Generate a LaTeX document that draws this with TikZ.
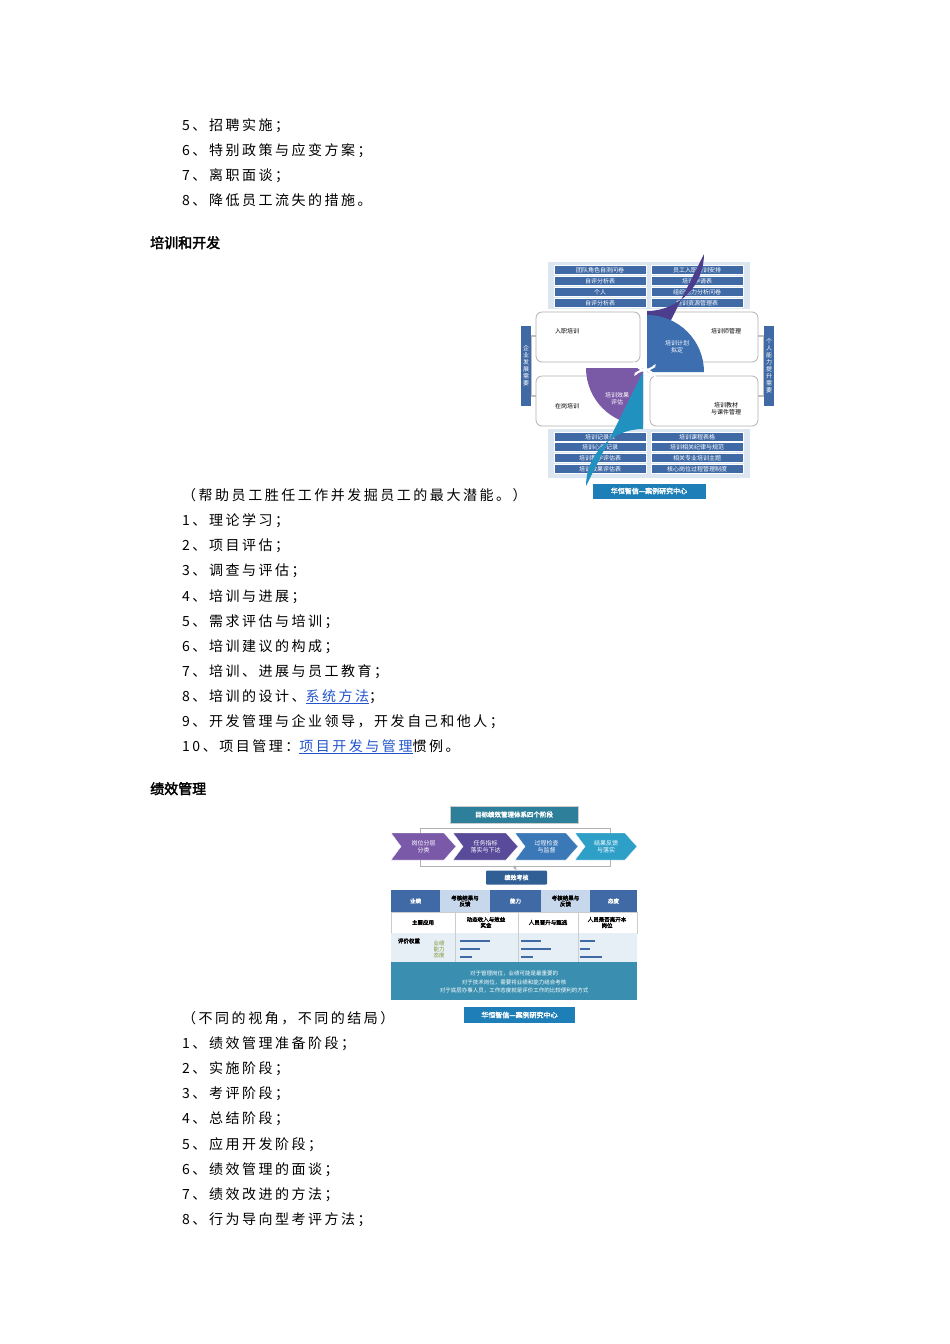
\documentclass[tikz,border=0pt]{standalone}
\usepackage{fontspec}
\newfontfamily\cjk[LetterSpace=18]{Noto Sans CJK SC}
\newfontfamily\cjks{Noto Sans CJK SC}
\newfontfamily\cjkb[FakeBold=2.5]{Noto Sans CJK SC}
\usetikzlibrary{arrows.meta}
\definecolor{bx}{HTML}{3F6AA6}
\definecolor{pan}{HTML}{DCE6F1}
\definecolor{linkc}{HTML}{2255CC}
\definecolor{capc}{HTML}{1E7FB8}
\begin{document}
\begin{tikzpicture}[x=1pt,y=-1pt,
 body/.style={anchor=base west,inner sep=0,font=\cjk\fontsize{14}{16}\selectfont},
 head/.style={anchor=base west,inner sep=0,font=\cjkb\fontsize{14}{16}\selectfont},
 tb/.style={fill=bx,draw=white,line width=0.6pt,inner sep=0,text=white,font=\cjks\fontsize{6}{7}\selectfont},
 sm/.style={inner sep=0,align=center,font=\cjks\fontsize{6}{7}\selectfont},
 rbox/.style={draw=gray!60,fill=white,rounded corners=6pt,line width=0.8pt},
 capbox/.style={fill=capc,text=white,inner sep=0,font=\cjkb\fontsize{7}{8}\selectfont}]
\useasboundingbox (0,0) rectangle (950,1344);
\fill[white] (0,0) rectangle (950,1344);
% body text
\node[body] (l1) at (182,130) {5、招聘实施；};
\node[body] (l2) at (182,155) {6、特别政策与应变方案；};
\node[body] (l3) at (182,180) {7、离职面谈；};
\node[body] (l4) at (182,205) {8、降低员工流失的措施。};
\node[head] (h1) at (150,248) {培训和开发};
\node[body] (t0) at (182,500) {（帮助员工胜任工作并发掘员工的最大潜能。）};
\node[body] (t1) at (182,525) {1、理论学习；};
\node[body] (t2) at (182,550) {2、项目评估；};
\node[body] (t3) at (182,575) {3、调查与评估；};
\node[body] (t4) at (182,601) {4、培训与进展；};
\node[body] (t5) at (182,626) {5、需求评估与培训；};
\node[body] (t6) at (182,651) {6、培训建议的构成；};
\node[body] (t7) at (182,676) {7、培训、进展与员工教育；};
\node[body] (t8) at (182,701) {8、培训的设计、{\color{linkc}\underline{系统方法}}；};
\node[body] (t9) at (182,726) {9、开发管理与企业领导，开发自己和他人；};
\node[body] (t10) at (182,751) {10、项目管理：{\color{linkc}\underline{项目开发与管理}}惯例。};
\node[head] (h2) at (150,794) {绩效管理};
\node[body] (p0) at (182,1023) {（不同的视角，不同的结局）};
\node[body] (p1) at (182,1048) {1、绩效管理准备阶段；};
\node[body] (p2) at (182,1073) {2、实施阶段；};
\node[body] (p3) at (182,1098) {3、考评阶段；};
\node[body] (p4) at (182,1123) {4、总结阶段；};
\node[body] (p5) at (182,1149) {5、应用开发阶段；};
\node[body] (p6) at (182,1174) {6、绩效管理的面谈；};
\node[body] (p7) at (182,1199) {7、绩效改进的方法；};
\node[body] (p8) at (182,1224) {8、行为导向型考评方法；};
% ===== training diagram
\fill[pan] (548,262) rectangle (750,309);
\fill[pan] (548,429) rectangle (750,478);
\foreach \y/\a/\b in {270/团队角色自测问卷/员工入职培训安排,281/自评分析表/培训申请表,292/个人/组织能力分析问卷/培训合同,303/自评分析表/培训资源管理表,437/培训记录表/培训课程表格,447/培训心得记录/培训相关纪律与规范,458/培训教学评估表/相关专业培训主题,469/培训效果评估表/核心岗位过程管理制度}{
 \node[tb,minimum width=92,minimum height=9] at (600,\y) {\a};
 \node[tb,minimum width=92,minimum height=9] at (697,\y) {\b};}
\draw[gray!50,line width=1.5pt] (531,336) -- (536,336) (531,396)--(536,396) (531,336)--(531,396);
\draw[gray!50,line width=1.5pt] (764,336) -- (758,336) (764,396)--(758,396) (764,336)--(764,396);
\draw[rbox] (536,312) rectangle (640,362);
\draw[rbox] (650,312) rectangle (758,362);
\draw[rbox] (536,376) rectangle (640,426);
\draw[rbox] (650,376) rectangle (758,426);
\fill[bx] (521,326) rectangle (531,406);
\fill[bx] (764,326) rectangle (774,406);
\node[sm,text=white,text width=7] (vl) at (526,366) {企\\业\\发\\展\\需\\要};
\node[sm,text=white,text width=7] (vr) at (769,366) {个\\人\\能\\力\\提\\升\\需\\要};
\node[sm] (a1) at (567,331) {入职培训};
\node[sm] (a2) at (726,331) {培训师管理};
\node[sm] (a3) at (567,406) {在岗培训};
\node[sm] (a4) at (726,409) {培训教材\\与课件管理};
\fill[fill={rgb,255:red,122;green,90;blue,166}] (643,368) -- (586,368) arc[start angle=180,end angle=90,radius=57] -- cycle;
\fill[fill={rgb,255:red,76;green,62;blue,140}] (647,368) -- (647,311) arc[start angle=90,end angle=0,radius=57] -- cycle;
\fill[fill={rgb,255:red,33;green,145;blue,192}] (643,372) -- (643,429) arc[start angle=270,end angle=180,radius=57] -- cycle;
\fill[fill={rgb,255:red,60;green,110;blue,176}] (647,372) -- (704,372) arc[start angle=0,end angle=-90,radius=57] -- cycle;
\node[sm,text=white] (q1) at (617,347) {培训需求\\分析};
\node[sm,text=white] (q2) at (677,347) {培训计划\\拟定};
\node[sm,text=white] (q3) at (617,399) {培训效果\\评估};
\node[sm,text=white] (q4) at (677,399) {培训过程\\实施};
\draw[white,line width=2pt,-{Stealth[length=4pt]}] (634,362) arc[start angle=160,end angle=30,radius=12];
\draw[white,line width=2pt,-{Stealth[length=4pt]}] (656,378) arc[start angle=-20,end angle=-150,radius=12];
\node[capbox,minimum width=113,minimum height=15] (c1) at (649,491) {华恒智信—案例研究中心};
% ===== performance diagram
\node[fill={rgb,255:red,46;green,127;blue,154},draw=gray!40,text=white,inner sep=0,minimum width=128,minimum height=17,font=\cjkb\fontsize{6.5}{7}\selectfont] (ptitle) at (514,814.5) {目标绩效管理体系四个阶段};
\draw[gray!60,line width=1pt] (420,834) -- (420,828) -- (610,828) -- (610,834);
\foreach \xa/\xb/\col/\t [count=\i] in {391/456/{rgb,255:red,122;green,90;blue,168}/岗位分层\\分类,453/518/{rgb,255:red,90;green,74;blue,154}/任务指标\\落实与下达,515/578/{rgb,255:red,59;green,120;blue,184}/过程检查\\与监督,575/637/{rgb,255:red,46;green,160;blue,200}/结果反馈\\与落实}{
 \fill[fill=\col,draw=white] (\xa,833) -- (\xb-12,833) -- (\xb,846.5) -- (\xb-12,860) -- (\xa,860) -- (\xa+10,846.5) -- cycle;
 \node[sm,text=white] (ch\i) at ({(\xa+\xb)/2},846.5) {\t};}
\draw[gray!60,line width=1pt] (420,860) -- (420,866) -- (610,866) -- (610,860);
\node[fill={rgb,255:red,47;green,95;blue,149},text=white,inner sep=0,minimum width=61,minimum height=14,rounded corners=1pt,font=\cjkb\fontsize{6}{7}\selectfont] (kh) at (516.5,877.5) {绩效考核};
\draw[gray!60,line width=2pt,-{Stealth[length=4pt]}] (514,866) -- (kh.north);
\foreach \xa/\xb/\t/\c/\f in {391/440/业绩/bx/white,440/490/考核结果与\\反馈/{rgb,255:red,200;green,216;blue,236}/black,490/541/能力/bx/white,541/590/考核结果与\\反馈/{rgb,255:red,200;green,216;blue,236}/black,590/637/态度/bx/white}{
 \fill[fill=\c] (\xa,890) rectangle (\xb,912);
 \node[sm,text=\f,font=\cjkb\fontsize{5.5}{6}\selectfont] at ({(\xa+\xb)/2},901) {\t};}
\draw[gray!40] (391,912) rectangle (637,933);
\fill[fill={rgb,255:red,230;green,238;blue,246}] (391,933) rectangle (637,962);
\foreach \x in {455,518,578}{\draw[gray!40] (\x,912) -- (\x,962);}
\node[sm,font=\cjkb\fontsize{5.5}{6}\selectfont] (r1) at (423,922.5) {主要应用};
\node[sm,font=\cjkb\fontsize{5.5}{6}\selectfont] (r2) at (486,922.5) {动态收入与效益\\奖金};
\node[sm,font=\cjkb\fontsize{5.5}{6}\selectfont] (r3) at (548,922.5) {人员晋升与甄选};
\node[sm,font=\cjkb\fontsize{5.5}{6}\selectfont] (r4) at (607,922.5) {人员是否离开本\\岗位};
\node[sm,font=\cjkb\fontsize{5.5}{6}\selectfont] (r5) at (409,941) {评价权重};
\node[sm,text={rgb,255:red,130;green,150;blue,50},font=\cjks\fontsize{5.5}{6}\selectfont] (r6) at (439,949) {业绩\\能力\\态度};
\foreach \x/\a/\b/\c in {460/30/20/12,521/20/30/12,580/15/10/22}{
 \draw[bx,line width=1.5pt] (\x,941) -- ++(\a,0);
 \draw[bx,line width=1.5pt] (\x,949) -- ++(\b,0);
 \draw[bx,line width=1.5pt] (\x,957) -- ++(\c,0);}
\fill[fill={rgb,255:red,58;green,143;blue,176}] (391,962) rectangle (637,1000);
\node[sm,text=white,font=\cjks\fontsize{5.5}{8.5}\selectfont] (r7) at (514,982) {对于管理岗位，业绩可能是最重要的\\对于技术岗位，需要将业绩和能力结合考核\\对于底层办事人员，工作态度就是评价工作的比较便利的方式};
\node[capbox,minimum width=111,minimum height=16] (c2) at (519.5,1015) {华恒智信—案例研究中心};
\end{tikzpicture}
\end{document}
